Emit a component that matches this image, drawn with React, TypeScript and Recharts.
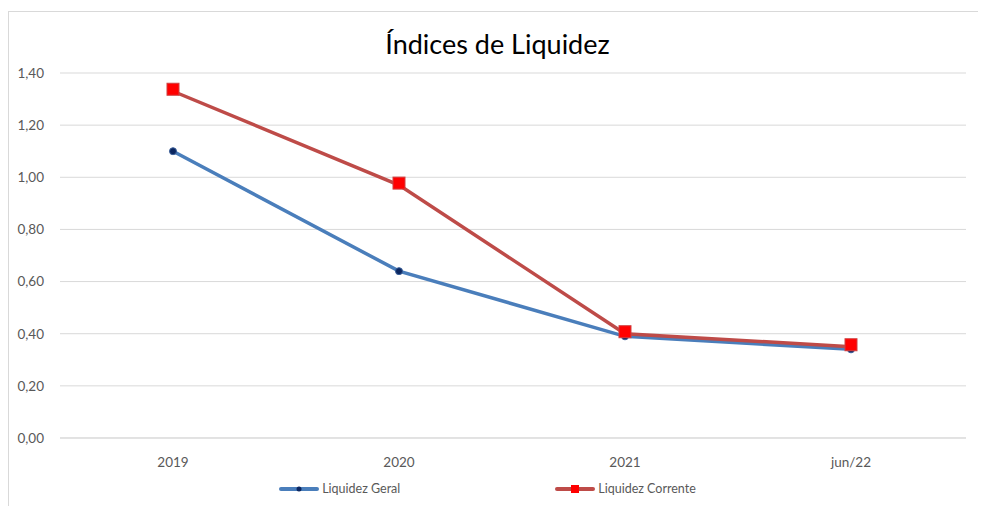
import React from 'react'
import { LineChart, Line, XAxis, YAxis, CartesianGrid } from 'recharts'

// Índices de liquidez por período
const periodos = ['2019', '2020', '2021', 'jun/22']
const liquidezGeral = [1.1, 0.64, 0.39, 0.34]
const liquidezCorrente = [1.33, 0.97, 0.4, 0.35]
const yTicks = [0, 0.2, 0.4, 0.6, 0.8, 1.0, 1.2, 1.4]

const chartData = periodos.map((periodo, i) => ({
  periodo,
  geral: liquidezGeral[i],
  corrente: liquidezCorrente[i],
}))

const FONT = 'Lato, "Open Sans", sans-serif'
const BLUE = '#4A7EBB'
const RED = '#BE4B48'
const TEXT = '#595959'
const GRID = '#D9D9D9'

const fmt = (v: number) => v.toFixed(2).replace('.', ',')

function SquareDot(props: any) {
  const { cx, cy, index } = props
  if (cx == null || cy == null) return <g key={`sq-${index}`} />
  return (
    <rect
      key={`sq-${index}`}
      x={cx - 6}
      y={cy - 8}
      width={12}
      height={12}
      fill="#FF0000"
      stroke="#D04040"
      strokeWidth={1}
    />
  )
}

function LegendContent() {
  const item = (label: string, color: string, marker: React.ReactNode) => (
    <div style={{ display: 'flex', alignItems: 'center' }}>
      <svg width={40} height={10} style={{ marginRight: 3 }}>
        <line x1={2} y1={5} x2={38} y2={5} stroke={color} strokeWidth={4} strokeLinecap="round" />
        {marker}
      </svg>
      <span style={{ fontFamily: FONT, fontSize: 12.5, color: TEXT }}>{label}</span>
    </div>
  )
  return (
    <div style={{ display: 'flex', justifyContent: 'center', gap: 155, paddingLeft: 0 }}>
      {item('Liquidez Geral', BLUE, <circle cx={20} cy={5} r={2.5} fill="#0B2660" />)}
      {item('Liquidez Corrente', RED, <rect x={16} y={1} width={8} height={8} fill="#FF0000" />)}
    </div>
  )
}

export default function App() {
  return (
    <div
      style={{
        marginTop: 3,
        width: 978,
        height: 495,
        borderTop: `1px solid ${GRID}`,
        borderLeft: `1px solid ${GRID}`,
        position: 'relative',
        background: '#fff',
        boxSizing: 'border-box',
      }}
    >
      <div
        style={{
          position: 'absolute',
          top: 15,
          width: '100%',
          textAlign: 'center',
          fontFamily: FONT,
          fontSize: 27,
          color: '#000',
        }}
      >
        Índices de Liquidez
      </div>
      <LineChart
        width={977}
        height={494}
        data={chartData}
        margin={{ top: 61, right: 20, bottom: 38, left: 8 }}
      >
        <CartesianGrid stroke={GRID} vertical={false} strokeWidth={1} />
        <XAxis
          dataKey="periodo"
          padding={{ left: 113, right: 115 }}
          axisLine={{ stroke: GRID }}
          tickLine={false}
          tickSize={0}
          tickMargin={19}
          height={30}
          tick={{ fill: TEXT, fontSize: 13.5, fontFamily: FONT }}
        />
        <YAxis
          domain={[0, 1.4]}
          ticks={yTicks}
          tickFormatter={fmt}
          axisLine={false}
          tickLine={false}
          tickSize={0}
          tickMargin={16}
          width={43}
          tick={{ fill: TEXT, fontSize: 13.5, fontFamily: FONT }}
        />
        <Line
          type="linear"
          dataKey="geral"
          name="Liquidez Geral"
          stroke={BLUE}
          strokeWidth={3.5}
          dot={{ r: 3.5, fill: '#0B2660', stroke: '#3A5F9A', strokeWidth: 1 }}
          isAnimationActive={false}
        />
        <Line
          type="linear"
          dataKey="corrente"
          name="Liquidez Corrente"
          stroke={RED}
          strokeWidth={3.5}
          dot={(p: any) => <SquareDot {...p} />}
          isAnimationActive={false}
        />
      </LineChart>
      <div style={{ position: 'absolute', top: 469, left: -10, width: 977 }}>
        <LegendContent />
      </div>
    </div>
  )
}
